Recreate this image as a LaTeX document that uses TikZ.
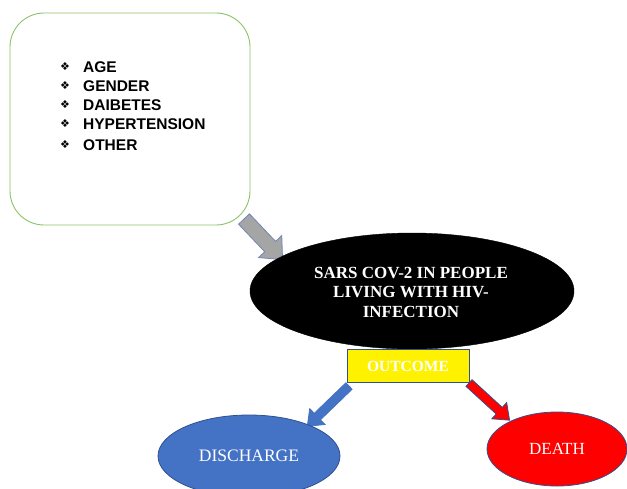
\documentclass[tikz,border=0pt]{standalone}
\usepackage{fontspec}
\setmainfont{Liberation Serif}
\newfontfamily\arialf{Liberation Sans}
\newfontfamily\symf{DejaVu Sans}
\usetikzlibrary{shapes.geometric}
\definecolor{boxgreen}{RGB}{140,195,105}
\definecolor{darkblue}{RGB}{47,82,143}
\definecolor{midblue}{RGB}{68,114,196}
\definecolor{grayfill}{RGB}{165,165,165}
\definecolor{grayline}{RGB}{110,135,180}
\tikzset{
  listitem/.style={anchor=west, inner sep=0pt, font=\arialf\bfseries\fontsize{15.5}{17}\selectfont},
  bulletmark/.style={inner sep=0pt, font=\symf\fontsize{11}{12}\selectfont},
  blockarrow/.style={line width=0.8pt, line join=miter},
}
\begin{document}
\begin{tikzpicture}[x=1pt,y=-1pt]
\useasboundingbox (0,0) rectangle (627,488);
% factor box
\node[draw=boxgreen, line width=0.9pt, rounded corners=34pt, minimum width=240pt, minimum height=212pt, fill=white] (factors) at (130,119) {};
\foreach \t/\yy/\n in {AGE/67/a, GENDER/86/b, DAIBETES/105/c, HYPERTENSION/124/d, OTHER/145/e}{
  \node[bulletmark] (b\n) at (65,\yy) {❖};
  \node[listitem] (t\n) at (83,\yy) {\t};
}
% gray block arrow
\coordinate (g0) at (244,219);
\begin{scope}[shift={(g0)}, rotate=-46.5]
  \draw[blockarrow, draw=grayline, fill=grayfill] (0,-7.5) -- (38,-7.5) -- (38,-16) -- (56,0) -- (38,16) -- (38,7.5) -- (0,7.5) -- cycle;
\end{scope}
% blue block arrow
\coordinate (b0) at (349,386);
\begin{scope}[shift={(b0)}, rotate=-136]
  \draw[blockarrow, draw=midblue, fill=midblue] (0,-4.5) -- (44,-4.5) -- (44,-11) -- (58,0) -- (44,11) -- (44,4.5) -- (0,4.5) -- cycle;
\end{scope}
% red block arrow
\coordinate (r0) at (469,383);
\begin{scope}[shift={(r0)}, rotate=-42.5]
  \draw[blockarrow, draw=darkblue, fill=red] (0,-4.5) -- (41,-4.5) -- (41,-11) -- (55,0) -- (41,11) -- (41,4.5) -- (0,4.5) -- cycle;
\end{scope}
% main ellipse
\node[ellipse, fill=black, draw=black, minimum width=324pt, minimum height=116pt, inner sep=0pt] (main) at (412,291) {};
\node[align=center, text=white, font=\bfseries\fontsize{17}{19.5}\selectfont] (maintext) at (411,292) {SARS COV-2 IN PEOPLE\\LIVING WITH HIV-\\INFECTION};
% outcome box
\node[draw=darkblue, line width=0.9pt, fill=yellow, minimum width=122pt, minimum height=33pt, inner sep=0pt, text=white, font=\bfseries\fontsize{15.5}{17}\selectfont] (outcome) at (408,366) {OUTCOME};
% discharge
\node[ellipse, draw=darkblue, line width=0.8pt, fill=midblue, minimum width=182pt, minimum height=82pt, inner sep=0pt, text=white, font=\fontsize{17.5}{20}\selectfont] (discharge) at (249,456) {DISCHARGE};
% death
\node[ellipse, draw=darkblue, line width=0.8pt, fill=red, minimum width=140pt, minimum height=74pt, inner sep=0pt, text=white, font=\fontsize{17}{20}\selectfont] (death) at (557,449) {DEATH};
\end{tikzpicture}
\end{document}
